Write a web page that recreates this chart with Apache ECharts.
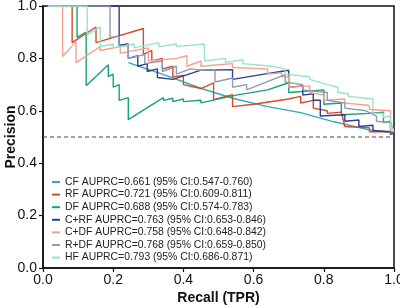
<!DOCTYPE html>
<html>
<head>
<meta charset="utf-8">
<script src="https://cdn.jsdelivr.net/npm/echarts@6/dist/echarts.min.js"></script>
<style>
  html, body { margin: 0; padding: 0; background: #fff; }
  #main { width: 400px; height: 308px; }
</style>
</head>
<body>
<div id="main"></div>
<script>
// legend names
var names = [
  'CF AUPRC=0.661 (95% CI:0.547-0.760)',
  'RF AUPRC=0.721 (95% CI:0.609-0.811)',
  'DF AUPRC=0.688 (95% CI:0.574-0.783)',
  'C+RF AUPRC=0.763 (95% CI:0.653-0.846)',
  'C+DF AUPRC=0.758 (95% CI:0.648-0.842)',
  'R+DF AUPRC=0.768 (95% CI:0.659-0.850)',
  'HF AUPRC=0.793 (95% CI:0.686-0.871)'
];
var colors = ['#31a9b8', '#d9482b', '#17a27c', '#2f3f8f', '#f5a190', '#8e9bb3', '#98e3c6'];

// [recall, precision]
var cf = [[0.243, 0.784], [0.35, 0.735], [0.449, 0.686], [0.54, 0.648], [0.64, 0.616],
  [0.734, 0.593], [0.829, 0.558], [0.926, 0.528], [1.0, 0.516]];

var rf = [[0.014, 1], [0.083, 1], [0.083, 0.86], [0.151, 0.92], [0.151, 0.86], [0.286, 0.914],
  [0.286, 0.815], [0.31, 0.83], [0.31, 0.79], [0.34, 0.80], [0.34, 0.76], [0.37, 0.77],
  [0.37, 0.73], [0.40, 0.735], [0.40, 0.70], [0.45, 0.685], [0.486, 0.707], [0.486, 0.642],
  [0.54, 0.662], [0.54, 0.616], [0.60, 0.625], [0.70, 0.645], [0.734, 0.655], [0.734, 0.63],
  [0.77, 0.64], [0.77, 0.61], [0.81, 0.60], [0.81, 0.59], [0.85, 0.595], [0.86, 0.54],
  [0.93, 0.535], [0.93, 0.52], [1.0, 0.52]];

var df = [[0.014, 1], [0.097, 1], [0.097, 0.88], [0.123, 0.90], [0.123, 0.696], [0.186, 0.776],
  [0.186, 0.73], [0.20, 0.74], [0.20, 0.69], [0.217, 0.70], [0.217, 0.64], [0.243, 0.65],
  [0.243, 0.566], [0.343, 0.65], [0.343, 0.64], [0.37, 0.648], [0.37, 0.635], [0.40, 0.645],
  [0.40, 0.635], [0.45, 0.64], [0.45, 0.63], [0.55, 0.66], [0.64, 0.68], [0.70, 0.707],
  [0.70, 0.67], [0.80, 0.68], [0.80, 0.625], [0.85, 0.63], [0.85, 0.585], [0.93, 0.59],
  [0.97, 0.595], [0.97, 0.555], [0.99, 0.56], [0.99, 0.52], [1.0, 0.52]];

var crf = [[0.014, 1], [0.217, 1], [0.217, 0.85], [0.243, 0.855], [0.243, 0.80], [0.27, 0.81],
  [0.27, 0.77], [0.297, 0.78], [0.297, 0.75], [0.326, 0.76], [0.326, 0.727], [0.37, 0.72],
  [0.45, 0.755], [0.54, 0.757], [0.54, 0.72], [0.63, 0.74], [0.70, 0.755], [0.70, 0.69],
  [0.74, 0.695], [0.74, 0.66], [0.77, 0.665], [0.77, 0.64], [0.79, 0.64], [0.79, 0.58],
  [0.86, 0.585], [0.86, 0.56], [0.90, 0.565], [0.90, 0.54], [0.94, 0.545], [0.94, 0.525],
  [0.99, 0.52], [0.99, 0.51], [1.0, 0.515]];

var cdf = [[0.014, 1], [0.056, 1], [0.056, 0.807], [0.094, 0.864], [0.094, 0.784], [0.163, 0.845],
  [0.163, 0.83], [0.22, 0.845], [0.22, 0.82], [0.30, 0.84], [0.30, 0.79], [0.38, 0.80],
  [0.41, 0.81], [0.41, 0.77], [0.45, 0.79], [0.45, 0.77], [0.54, 0.78], [0.54, 0.765],
  [0.64, 0.76], [0.64, 0.74], [0.68, 0.745], [0.68, 0.73], [0.70, 0.73], [0.70, 0.69],
  [0.76, 0.695], [0.76, 0.67], [0.80, 0.66], [0.80, 0.64], [0.86, 0.645], [0.86, 0.63],
  [0.93, 0.62], [0.93, 0.605], [0.99, 0.60], [0.99, 0.56], [1.0, 0.52]];

var rdf = [[0.014, 1], [0.191, 1], [0.191, 0.88], [0.217, 0.885], [0.217, 0.845], [0.243, 0.85],
  [0.243, 0.80], [0.29, 0.815], [0.29, 0.78], [0.34, 0.79], [0.34, 0.75], [0.38, 0.77],
  [0.38, 0.74], [0.42, 0.76], [0.45, 0.755], [0.49, 0.757], [0.49, 0.71], [0.54, 0.725],
  [0.54, 0.69], [0.58, 0.70], [0.58, 0.68], [0.69, 0.738], [0.69, 0.71], [0.74, 0.70],
  [0.74, 0.68], [0.81, 0.67], [0.81, 0.64], [0.86, 0.63], [0.86, 0.61], [0.92, 0.60],
  [0.95, 0.58], [0.95, 0.56], [0.99, 0.555], [0.99, 0.52], [1.0, 0.52]];

var hf = [[0.014, 1], [0.126, 1], [0.126, 0.89], [0.163, 0.92], [0.163, 0.845], [0.20, 0.855],
  [0.20, 0.84], [0.26, 0.855], [0.26, 0.84], [0.33, 0.86], [0.33, 0.845], [0.38, 0.855],
  [0.38, 0.845], [0.46, 0.855], [0.46, 0.79], [0.52, 0.80], [0.52, 0.785], [0.57, 0.795],
  [0.57, 0.78], [0.65, 0.77], [0.69, 0.76], [0.69, 0.74], [0.76, 0.73], [0.76, 0.72],
  [0.81, 0.70], [0.84, 0.69], [0.84, 0.67], [0.87, 0.665], [0.87, 0.655], [0.94, 0.645],
  [0.94, 0.59], [0.97, 0.59], [0.97, 0.575], [0.99, 0.58], [0.99, 0.53], [1.0, 0.53]];

var baseline = [[0, 0.5], [1, 0.5]];

var curves = [cf, rf, df, crf, cdf, rdf, hf];

var myChart = echarts.init(document.getElementById('main'));

var series = curves.map(function (d, i) {
  return {
    name: names[i],
    type: 'line',
    data: d,
    symbol: 'none',
    lineStyle: {color: colors[i], width: 1.4},
    itemStyle: {color: colors[i]}
  };
});
series.unshift({
  type: 'line',
  data: baseline,
  symbol: 'none',
  silent: true,
  lineStyle: {color: '#444', width: 1, type: [4, 3]}
});

var axisFont = {fontFamily: 'Liberation Sans', fontSize: 14, color: '#111'};

var option = {
  animation: false,
  grid: {
    left: 43, right: 6, top: 6, bottom: 40,
    outerBoundsMode: 'none',
    containLabel: false,
    show: true, borderColor: '#111', borderWidth: 1.5
  },
  legend: {
    orient: 'vertical',
    left: 52,
    top: 176,
    padding: 0,
    icon: 'rect',
    itemWidth: 8,
    itemHeight: 2,
    itemGap: 0.6,
    selectedMode: false,
    data: names,
    textStyle: {fontFamily: 'Liberation Sans', fontSize: 10.4, color: '#222', lineHeight: 12}
  },
  xAxis: {
    type: 'value',
    min: 0, max: 1, interval: 0.2,
    name: 'Recall (TPR)',
    nameLocation: 'middle',
    nameGap: 23,
    nameMoveOverlap: false,
    nameTextStyle: {fontFamily: 'Liberation Sans', fontSize: 14, fontWeight: 'bold', color: '#111'},
    axisLine: {lineStyle: {color: '#111', width: 1.5}},
    axisTick: {length: 4, lineStyle: {color: '#111', width: 1.2}},
    axisLabel: Object.assign({margin: 5, formatter: function (v) { return v.toFixed(1); }}, axisFont),
    splitLine: {show: false}
  },
  yAxis: {
    type: 'value',
    min: 0, max: 1, interval: 0.2,
    name: 'Precision',
    nameLocation: 'middle',
    nameGap: 25,
    nameMoveOverlap: false,
    nameTextStyle: {fontFamily: 'Liberation Sans', fontSize: 14, fontWeight: 'bold', color: '#111'},
    axisLine: {lineStyle: {color: '#111', width: 1.5}},
    axisTick: {length: 4, lineStyle: {color: '#111', width: 1.2}},
    axisLabel: Object.assign({margin: 6, formatter: function (v) { return v.toFixed(1); }}, axisFont),
    splitLine: {show: false}
  },
  series: series
};

myChart.setOption(option);
</script>
</body>
</html>
